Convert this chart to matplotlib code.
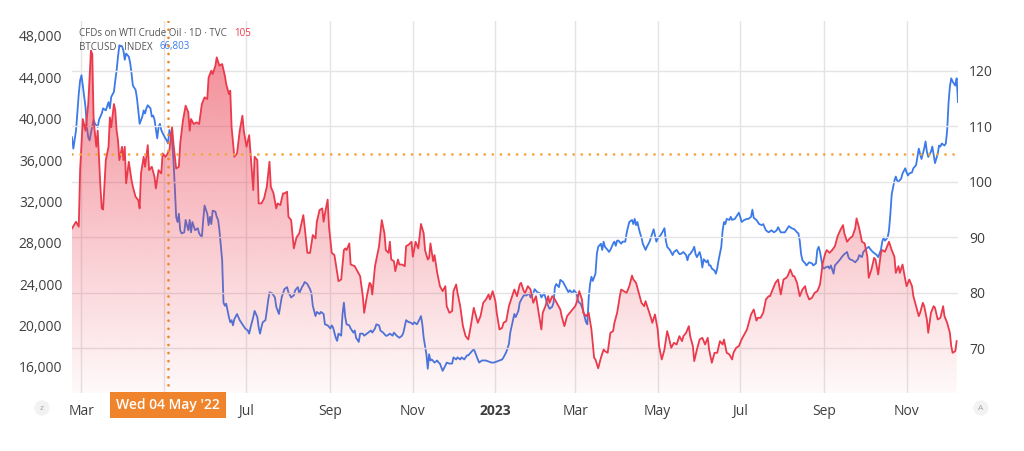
import numpy as np
import matplotlib.pyplot as plt
import matplotlib.dates as mdates
from matplotlib.colors import to_rgb

plt.rcParams['font.family'] = ['Open Sans', 'DejaVu Sans']

# Dates are stored as days after the first bar (22 Feb 2022)
start = np.datetime64('2022-02-22')

# WTI crude oil (right scale)
oil_days = [0, 3, 5, 6, 8, 10, 12, 14, 15, 16,
            18, 19, 21, 22, 23, 25, 27, 28, 29, 31,
            32, 33, 34, 35, 37, 38, 39, 40, 42, 44,
            45, 47, 49, 50, 51, 53, 54, 56, 57, 59,
            61, 62, 64, 66, 67, 69, 70, 72, 74, 75,
            77, 79, 80, 82, 84, 86, 87, 88, 90, 92,
            94, 96, 98, 100, 101, 103, 104, 106, 107, 109,
            111, 113, 114, 116, 117, 118, 120, 122, 124, 126,
            127, 129, 131, 132, 134, 135, 137, 138, 140, 142,
            144, 146, 147, 149, 151, 152, 154, 156, 157, 159,
            160, 162, 164, 166, 168, 171, 172, 174, 176, 178,
            180, 181, 183, 185, 186, 187, 189, 190, 192, 194,
            197, 199, 201, 202, 203, 205, 206, 209, 211, 213,
            215, 216, 218, 220, 221, 222, 224, 226, 227, 229,
            231, 232, 234, 235, 236, 238, 239, 241, 242, 244,
            246, 247, 249, 251, 252, 254, 256, 258, 260, 261,
            263, 264, 265, 267, 268, 270, 272, 274, 276, 277,
            279, 281, 282, 284, 285, 287, 289, 291, 293, 295,
            297, 298, 300, 302, 304, 306, 308, 309, 311, 313,
            314, 316, 318, 319, 321, 323, 325, 327, 329, 331,
            332, 334, 335, 337, 339, 341, 343, 345, 347, 348,
            350, 352, 353, 355, 357, 359, 361, 362, 364, 366,
            368, 370, 372, 373, 375, 377, 378, 380, 382, 384,
            386, 387, 389, 391, 393, 394, 396, 398, 400, 401,
            403, 405, 406, 408, 410, 412, 414, 415, 417, 419,
            421, 423, 424, 426, 428, 429, 431, 433, 434, 436,
            438, 440, 441, 443, 445, 447, 449, 451, 452, 454,
            456, 457, 459, 460, 462, 464, 466, 468, 470, 471,
            473, 475, 477, 479, 481, 482, 484, 486, 488, 489,
            491, 493, 495, 497, 499, 500, 502, 504, 506, 507,
            509, 511, 513, 515, 516, 518, 520, 522, 524, 526,
            528, 529, 531, 533, 534, 536, 538, 540, 542, 543,
            545, 547, 549, 551, 553, 555, 557, 558, 560, 562,
            564, 566, 568, 570, 571, 573, 575, 577, 579, 580,
            582, 584, 586, 588, 589, 591, 593, 594, 596, 598,
            599, 601, 603, 604, 606, 608, 609, 611, 612, 614,
            616, 617, 619, 621, 622, 624, 626, 627, 629, 630,
            632, 633, 635, 637, 638, 640, 642, 644, 645, 647,
            649, 650, 651, 653, 654]
oil_price = [91.6, 92.8, 91.9, 102.1, 111.3, 109.2, 114, 123.6, 123, 111,
             106.3, 109.2, 99.1, 95.2, 95, 103.9, 106.3, 111.6, 109.8, 114,
             112.8, 109.2, 107.5, 103.9, 106.3, 103.9, 106.3, 99.7, 103.6, 100.3,
             99.1, 97.3, 96.7, 95.2, 101.5, 104.5, 102.7, 106.6, 102.1, 102.7,
             100.9, 98.8, 102.1, 101.5, 105.1, 104.5, 104.8, 105.7, 109.8, 106.9,
             102.4, 102.7, 106.9, 111, 113.7, 112.5, 109.2, 111.3, 110.4, 110.7,
             110.4, 114, 115.2, 114.9, 118.8, 120, 119.4, 120.9, 122.4, 120.9,
             121.2, 119.1, 117.6, 115.8, 116.4, 109.8, 104.5, 105.1, 109.2, 111.9,
             109.2, 106.3, 108.4, 105.1, 98.5, 104.5, 103.9, 96.1, 96.1, 97,
             99.1, 103.6, 99.1, 97.9, 95.2, 96.1, 95.8, 97.9, 97.9, 98.2,
             93.7, 93.1, 88.0, 90, 90.7, 94, 91.9, 87.2, 87.2, 90.4,
             89.8, 92.8, 94.9, 95.2, 92.8, 94.3, 96.8, 91.9, 87.2, 86.8,
             82.1, 82.4, 87.7, 88.0, 87.7, 88.9, 85.1, 84.8, 83.9, 83.0,
             79.4, 76.4, 79.4, 81.8, 81.5, 79.7, 84.8, 87.2, 88.4, 93.1,
             90.7, 87.7, 87.2, 89.2, 86, 85.7, 83.9, 86, 85.1, 85.1,
             84.8, 88.4, 88.7, 89.2, 86.5, 89.2, 88.0, 92.4, 90.7, 87.7,
             86, 86.3, 88.9, 85.7, 86.8, 83.6, 81.2, 80.3, 81.2, 77.6,
             76.4, 76.7, 80.3, 81.5, 80, 77.6, 74.0, 72.2, 71.6, 74.3,
             77.3, 76.4, 74.6, 75.8, 78.2, 78.8, 79.7, 78.8, 80.3, 78.5,
             76.4, 73.4, 73.7, 74.6, 74.9, 77.6, 79.1, 80.6, 79.4, 81.5,
             81.8, 80.3, 80, 81.2, 80.6, 78.2, 79.4, 76.4, 73.4, 76.4,
             77.6, 79.4, 78.2, 79.4, 78.8, 77.9, 77, 75.8, 74, 75.8,
             76.4, 77, 77.6, 78.2, 80.3, 78.8, 76.4, 75.8, 76.4, 73.4,
             68.3, 68.0, 66.4, 68.3, 69.8, 69.5, 69.2, 72.8, 73.1, 74.6,
             76.4, 79.4, 80.6, 80.3, 80, 81.2, 83.1, 82.4, 81.8, 80,
             78.2, 77.6, 78.5, 77, 75.5, 74.6, 76.1, 73.4, 70.4, 68.0,
             69.8, 73.1, 72.2, 70.1, 71, 70.7, 72.2, 71.3, 72.2, 72.8,
             74.0, 72.2, 70.4, 67.7, 69.8, 71.6, 71.9, 70.7, 71.9, 69.8,
             67.4, 69.2, 69.2, 71.3, 70.7, 71.6, 69.2, 68.9, 68.0, 69.2,
             70.1, 70.4, 71.6, 72.5, 73.4, 74.3, 76.1, 77, 75, 75.5,
             75.5, 76.4, 78.8, 79.4, 79.4, 80.6, 81.8, 82.4, 79.7, 82.4,
             82.7, 83, 84.2, 83, 83, 81.8, 79.4, 80.6, 81.2, 80,
             78.8, 79.1, 80, 80.3, 81.5, 85.4, 87.2, 87.7, 87.2, 87.7,
             88.4, 90.2, 91.3, 92.2, 90.7, 89.2, 89.8, 90.2, 91.6, 93.4,
             91.6, 89.2, 88.9, 86.5, 82.7, 84.2, 86.3, 86, 83.3, 87.2,
             87.7, 87.4, 88.6, 89.2, 87.7, 86.5, 83.6, 84.8, 83.6, 85.1,
             82.4, 81.2, 82.4, 81.2, 79.4, 77.6, 75.8, 76.4, 78.2, 77.6,
             75.2, 72.8, 76.4, 77.6, 77.3, 75.2, 75.5, 77.6, 75.8, 74.6,
             72.8, 70.4, 69.2, 69.5, 71.3]

# BTCUSD (left scale)
btc_days = [0, 1, 3, 5, 6, 7, 8, 10, 11, 12,
            13, 14, 16, 17, 19, 20, 22, 23, 25, 27,
            28, 29, 31, 32, 33, 34, 35, 37, 38, 39,
            40, 42, 43, 44, 45, 47, 48, 49, 50, 52,
            53, 54, 55, 56, 58, 59, 60, 61, 63, 64,
            65, 66, 67, 69, 70, 71, 72, 74, 75, 76,
            77, 78, 79, 80, 81, 83, 84, 86, 87, 88,
            89, 91, 93, 94, 96, 97, 98, 100, 101, 102,
            103, 104, 106, 107, 108, 109, 111, 112, 113, 114,
            116, 117, 118, 119, 120, 122, 123, 124, 126, 128,
            130, 131, 132, 134, 135, 137, 138, 139, 140, 141,
            143, 144, 145, 146, 148, 150, 151, 153, 154, 155,
            157, 159, 160, 162, 164, 165, 167, 168, 170, 171,
            172, 174, 176, 177, 178, 180, 181, 183, 184, 186,
            187, 189, 191, 192, 193, 195, 196, 197, 199, 200,
            201, 202, 203, 205, 206, 208, 209, 210, 212, 213,
            215, 216, 218, 219, 221, 222, 224, 225, 227, 228,
            230, 232, 233, 235, 237, 238, 240, 242, 244, 245,
            247, 249, 250, 252, 253, 255, 257, 258, 259, 260,
            262, 263, 264, 265, 266, 268, 270, 271, 272, 274,
            276, 277, 279, 281, 282, 284, 285, 287, 288, 290,
            292, 293, 295, 297, 298, 300, 301, 303, 305, 306,
            308, 310, 312, 314, 316, 318, 319, 321, 323, 324,
            326, 327, 328, 330, 331, 333, 334, 336, 338, 339,
            341, 342, 344, 346, 347, 349, 350, 351, 353, 355,
            356, 357, 358, 360, 361, 363, 365, 367, 368, 370,
            371, 373, 374, 375, 376, 378, 379, 380, 381, 382,
            383, 384, 385, 387, 388, 389, 391, 392, 393, 394,
            396, 397, 398, 400, 401, 402, 403, 404, 406, 407,
            409, 410, 411, 412, 414, 415, 416, 417, 418, 419,
            420, 421, 422, 424, 425, 427, 428, 430, 431, 432,
            433, 435, 436, 438, 439, 440, 442, 444, 445, 447,
            449, 450, 452, 454, 455, 456, 457, 459, 460, 461,
            462, 464, 465, 466, 467, 469, 470, 471, 472, 473,
            475, 476, 477, 478, 480, 481, 482, 483, 484, 486,
            487, 488, 490, 491, 493, 494, 495, 497, 499, 500,
            502, 503, 504, 506, 508, 510, 511, 513, 515, 517,
            519, 521, 522, 524, 526, 527, 529, 530, 532, 534,
            536, 537, 538, 539, 540, 542, 543, 545, 547, 548,
            550, 551, 552, 553, 555, 556, 557, 559, 560, 561,
            563, 564, 566, 568, 569, 571, 573, 574, 575, 577,
            579, 581, 582, 584, 585, 587, 589, 590, 592, 594,
            595, 596, 598, 599, 600, 601, 603, 604, 605, 606,
            608, 609, 610, 611, 613, 614, 616, 617, 618, 619,
            621, 622, 624, 625, 626, 627, 628, 630, 631, 632,
            633, 635, 636, 637, 638, 640, 641, 642, 643, 645,
            646, 647, 648, 649, 650, 651, 653, 654, 655]
btc_price = [38200, 37100, 38900, 42400, 43700, 44200, 43200, 41100, 39200, 38200,
             37900, 38600, 39900, 39500, 39200, 39900, 40500, 41000, 40800, 41600,
             41000, 42100, 42600, 43700, 44700, 46000, 47100, 47000, 46600, 45700,
             46300, 46000, 45400, 44400, 43200, 42800, 42000, 40800, 39500, 40200,
             40800, 40500, 41000, 41300, 41000, 40200, 40300, 39900, 38100, 39200,
             39500, 38900, 38600, 38100, 37900, 37600, 38900, 37800, 36000, 33400,
             30500, 30000, 30800, 29200, 28900, 29000, 30200, 29200, 30200, 29000,
             30000, 29200, 29400, 28900, 28500, 30200, 31600, 30800, 29700, 30500,
             29800, 31100, 31000, 30500, 30200, 29200, 26300, 22200, 21900, 22100,
             20800, 20300, 20500, 20000, 20600, 21100, 20800, 20500, 20100, 19700,
             19500, 19200, 19800, 20800, 21400, 20800, 19800, 19200, 19800, 20300,
             20500, 21400, 22400, 23200, 23100, 22700, 21800, 21100, 21900, 22700,
             23500, 23700, 23200, 22700, 22900, 23400, 23700, 23100, 23700, 23900,
             24200, 24000, 23500, 23100, 21900, 20900, 21300, 21100, 21300, 21100,
             20100, 20000, 19700, 20000, 19800, 18800, 18500, 19200, 19000, 21100,
             22200, 20800, 20100, 20000, 19700, 19300, 19500, 18800, 18400, 19200,
             19200, 19000, 19200, 19300, 19500, 19300, 19700, 20100, 20000, 19500,
             19300, 19000, 19000, 19200, 19000, 19300, 19000, 18800, 19000, 19300,
             20500, 20300, 20300, 20100, 20300, 20100, 20600, 20900, 20100, 18800,
             17200, 15800, 17200, 16600, 16700, 16400, 16600, 16400, 16300, 15600,
             16100, 16400, 16300, 16300, 16900, 16700, 16900, 16700, 16900, 16700,
             17100, 17100, 17400, 17700, 17400, 16700, 16400, 16600, 16600, 16600,
             16500, 16400, 16400, 16500, 16600, 16700, 16900, 17400, 18200, 19300,
             20500, 21100, 20800, 21400, 22200, 22700, 22900, 22900, 23100, 22700,
             23100, 23500, 23200, 23100, 22700, 23100, 22700, 22200, 21600, 21800,
             22200, 23700, 24000, 23700, 24400, 24200, 23700, 23200, 23400, 23100,
             23400, 23100, 22400, 22200, 22100, 21400, 20800, 20300, 20100, 22700,
             24000, 24700, 24300, 25000, 26900, 27600, 27900, 27300, 28100, 27600,
             27300, 27100, 27300, 27900, 28100, 27700, 28200, 28200, 27900, 28100,
             28100, 28900, 29500, 30000, 30200, 29800, 30300, 29700, 30000, 29400,
             28900, 28500, 27900, 27300, 27600, 28100, 28500, 29300, 28700, 28100,
             28400, 28700, 28900, 29400, 28200, 27600, 27300, 26800, 27100, 27300,
             26900, 26900, 27100, 26800, 26300, 26800, 26900, 27300, 27600, 26900,
             26600, 27100, 26600, 25600, 26400, 26100, 26300, 25800, 25800, 25500,
             25300, 25000, 25500, 26300, 27600, 29200, 30000, 29800, 30300, 30200,
             30500, 30200, 30300, 30500, 30900, 30500, 30000, 30200, 30300, 30300,
             30500, 31200, 30400, 30200, 29800, 29700, 29800, 29200, 29000, 29200,
             29000, 29200, 29500, 29000, 29000, 29000, 29400, 29600, 29400, 29300,
             29000, 28900, 28200, 26900, 26300, 26000, 25800, 26100, 26000, 25800,
             26000, 27300, 27600, 27100, 25600, 25500, 25600, 25700, 25500, 25800,
             25000, 25800, 26100, 26400, 26600, 26900, 27100, 26600, 26400, 26300,
             26100, 26400, 26800, 26600, 27100, 27400, 27600, 27400, 27100, 26900,
             26800, 26600, 27300, 28100, 28500, 28200, 28500, 29200, 30800, 32700,
             34000, 34400, 34000, 33900, 34200, 34700, 35200, 34800, 34500, 34700,
             34800, 35200, 35500, 36300, 37100, 36600, 36100, 37100, 37800, 36800,
             36300, 36800, 37300, 36500, 35700, 36600, 37400, 37300, 37600, 37400,
             37600, 38900, 41500, 43100, 43900, 43600, 43200, 43900, 41600]

# Axis ticks (the May 2022 label sits under the crosshair date box)
btc_ticks = [16000, 20000, 24000, 28000, 32000, 36000, 40000, 44000, 48000]
oil_ticks = [70, 80, 90, 100, 110, 120]
month_ticks = ['2022-03-01', '2022-05-01', '2022-07-01', '2022-09-01', '2022-11-01',
               '2023-01-01', '2023-03-01', '2023-05-01', '2023-07-01', '2023-09-01',
               '2023-11-01']
month_labels = ['Mar', '', 'Jul', 'Sep', 'Nov', '2023', 'Mar', 'May', 'Jul', 'Sep', 'Nov']

# Crosshair position and legend values
cross_date = '2022-05-04'
cross_label = "Wed 04 May '22"
cross_oil = 105
oil_name = 'CFDs on WTI Crude Oil · 1D · TVC'
oil_last = '105'
btc_name = 'BTCUSD · INDEX'
btc_last = '66,803'

red = '#ea3a4c'
blue = '#3b7ae8'
grid_color = '#e4e4e6'
label_color = '#3f3f3f'

oil_x = mdates.date2num(start + np.array(oil_days).astype('timedelta64[D]'))
btc_x = mdates.date2num(start + np.array(btc_days).astype('timedelta64[D]'))
x_lo = mdates.date2num(start)
x_hi = mdates.date2num(start + np.timedelta64(655, 'D'))

fig = plt.figure(figsize=(10.24, 4.51), dpi=100)
ax = fig.add_axes([72 / 1024, 1 - 393 / 451, 886 / 1024, 372 / 451])
ax2 = ax.twinx()

# BTC line on the left scale (drawn under the oil area)
ax.plot(btc_x, btc_price, color=blue, linewidth=1.3, zorder=2)

# Oil area with a vertical fade, then the oil line
y_lo, y_hi = 61.96, 128.95
poly = ax2.fill_between(oil_x, oil_price, y_lo - 5, color='none', linewidth=0)
grad = np.zeros((256, 1, 4))
grad[:, 0, :3] = to_rgb(red)
grad[:, 0, 3] = np.linspace(0.62, 0.03, 256)
im = ax2.imshow(grad, aspect='auto', origin='upper',
                extent=[x_lo, x_hi, y_lo, y_hi], zorder=1)
im.set_clip_path(poly.get_paths()[0], transform=ax2.transData)
ax2.plot(oil_x, oil_price, color=red, linewidth=1.3, zorder=3)

# Scales
ax.set_xlim(x_lo, x_hi)
ax2.set_xlim(x_lo, x_hi)
ax.set_ylim(13455, 49451)
ax2.set_ylim(y_lo, y_hi)

ax.set_yticks(btc_ticks)
ax.set_yticklabels([f'{t:,}' for t in btc_ticks])
ax2.set_yticks(oil_ticks)
ax2.set_yticklabels([str(t) for t in oil_ticks])
ax.set_xticks(mdates.date2num(np.array(month_ticks, dtype='datetime64[D]')))
ax.set_xticklabels(month_labels)
for lab in ax.get_xticklabels():
    if lab.get_text() == '2023':
        lab.set_fontweight('bold')

ax.tick_params(axis='y', length=0, pad=7, labelsize=10, labelcolor=label_color)
ax2.tick_params(axis='y', length=0, pad=8, labelsize=10, labelcolor=label_color)
ax.tick_params(axis='x', length=0, pad=8, labelsize=10, labelcolor=label_color)

# Grid: months vertical, oil levels horizontal
ax.grid(axis='x', color=grid_color, linewidth=1)
ax.set_axisbelow(True)
ax2.grid(axis='y', color=grid_color, linewidth=1)
ax2.set_axisbelow(True)

for a in (ax, ax2):
    for s in a.spines.values():
        s.set_visible(False)

# Crosshair (round dots)
cx = mdates.date2num(np.datetime64(cross_date))
ax2.axvline(cx, color='#f0862a', linewidth=2, linestyle=(0, (0.01, 2.9)),
            dash_capstyle='round', zorder=4)
ax2.axhline(cross_oil, color='#f4a53c', linewidth=2, linestyle=(0, (0.01, 2.9)),
            dash_capstyle='round', zorder=4)
ax2.text(cx, -0.032, cross_label, transform=ax2.get_xaxis_transform(),
         ha='center', va='center', color='white', fontsize=10, fontweight='semibold',
         bbox=dict(boxstyle='square,pad=0.45', fc='#f0842c', ec='none'), zorder=5)

# Legend lines at the top left, value placed just after each name
t1 = fig.text(79 / 1024, 1 - 33 / 451, oil_name, fontsize=7, color='#555555', va='center')
ax.annotate(oil_last, xy=(1, 0.5), xycoords=t1, xytext=(5, 0), textcoords='offset points',
            fontsize=7, color=red, va='center')
t2 = fig.text(79 / 1024, 1 - 47 / 451, btc_name, fontsize=7, color='#555555', va='center')
ax.annotate(btc_last, xy=(1, 0.5), xycoords=t2, xytext=(5, 0), textcoords='offset points',
            fontsize=7, color=blue, va='center')

# Small round buttons in the corners
for bx, letter in [(42, 'z'), (981, 'A')]:
    fig.text(bx / 1024, 1 - 408 / 451, letter, fontsize=6, color='#a0a0a0',
             ha='center', va='center',
             bbox=dict(boxstyle='circle,pad=0.5', fc='#f2f2f2', ec='none'))

fig.savefig('out.png', dpi=100)
